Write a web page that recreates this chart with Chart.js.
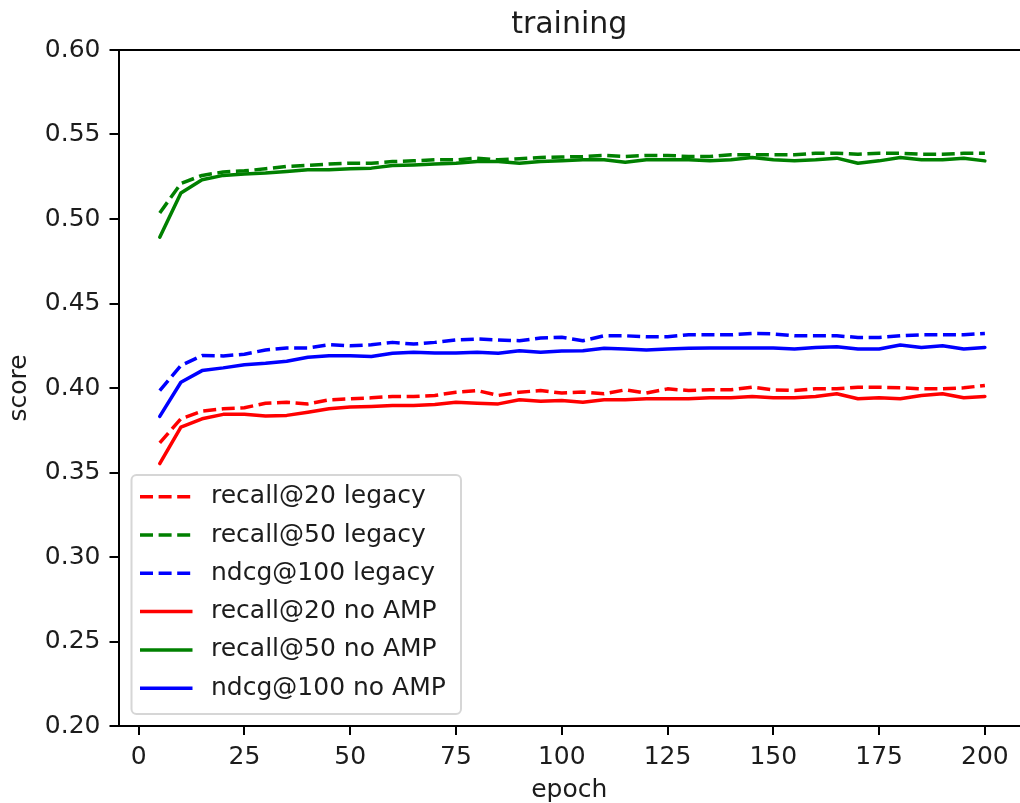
<!DOCTYPE html>
<html>
<head>
<meta charset="utf-8">
<title>training</title>
<script src="https://cdn.jsdelivr.net/npm/chart.js@4.4.1/dist/chart.umd.min.js"></script>
<style>
  html, body { margin: 0; padding: 0; background: #fff; }
  #wrap { width: 1020px; height: 803px; position: relative; }
</style>
</head>
<body>
<div id="wrap"><canvas id="trainingChart"></canvas></div>
<script>
// epochs
const epochs = [5, 10, 15, 20, 25, 30, 35, 40, 45, 50, 55, 60, 65, 70, 75, 80, 85, 90, 95, 100,
  105, 110, 115, 120, 125, 130, 135, 140, 145, 150, 155, 160, 165, 170, 175, 180, 185, 190, 195, 200];

const recall20Legacy = [0.3675, 0.3818, 0.3863, 0.3877, 0.3883, 0.3910, 0.3916, 0.3906, 0.3930, 0.3936,
  0.3942, 0.3950, 0.3950, 0.3956, 0.3975, 0.3985, 0.3956, 0.3975, 0.3985, 0.3970,
  0.3976, 0.3966, 0.3989, 0.3970, 0.3995, 0.3985, 0.3989, 0.3989, 0.4005, 0.3989,
  0.3985, 0.3995, 0.3995, 0.4005, 0.4005, 0.4001, 0.3995, 0.3995, 0.4001, 0.4015];

const recall50Legacy = [0.5036, 0.5210, 0.5258, 0.5278, 0.5285, 0.5297, 0.5311, 0.5317, 0.5325, 0.5330,
  0.5330, 0.5340, 0.5344, 0.5350, 0.5350, 0.5360, 0.5350, 0.5356, 0.5364, 0.5367,
  0.5370, 0.5376, 0.5370, 0.5376, 0.5376, 0.5370, 0.5370, 0.5380, 0.5380, 0.5380,
  0.5380, 0.5389, 0.5389, 0.5383, 0.5389, 0.5389, 0.5383, 0.5383, 0.5389, 0.5389];

const ndcg100Legacy = [0.3985, 0.4133, 0.4192, 0.4190, 0.4200, 0.4225, 0.4237, 0.4237, 0.4256, 0.4250,
  0.4256, 0.4270, 0.4260, 0.4270, 0.4284, 0.4290, 0.4284, 0.4280, 0.4296, 0.4300,
  0.4280, 0.4309, 0.4309, 0.4303, 0.4303, 0.4315, 0.4315, 0.4315, 0.4323, 0.4320,
  0.4309, 0.4309, 0.4309, 0.4299, 0.4299, 0.4309, 0.4315, 0.4315, 0.4315, 0.4323];

const recall20NoAmp = [0.3553, 0.3769, 0.3818, 0.3844, 0.3844, 0.3834, 0.3838, 0.3857, 0.3877, 0.3887,
  0.3891, 0.3897, 0.3897, 0.3903, 0.3916, 0.3910, 0.3906, 0.3930, 0.3922, 0.3926,
  0.3916, 0.3930, 0.3930, 0.3936, 0.3936, 0.3936, 0.3942, 0.3942, 0.3950, 0.3942,
  0.3942, 0.3950, 0.3966, 0.3936, 0.3942, 0.3936, 0.3956, 0.3966, 0.3942, 0.3950];

const recall50NoAmp = [0.4892, 0.5154, 0.5232, 0.5258, 0.5266, 0.5272, 0.5281, 0.5291, 0.5291, 0.5297,
  0.5301, 0.5317, 0.5320, 0.5325, 0.5330, 0.5340, 0.5340, 0.5330, 0.5340, 0.5344,
  0.5350, 0.5350, 0.5336, 0.5350, 0.5350, 0.5350, 0.5344, 0.5350, 0.5364, 0.5350,
  0.5344, 0.5350, 0.5360, 0.5330, 0.5344, 0.5364, 0.5350, 0.5350, 0.5360, 0.5344];

const ndcg100NoAmp = [0.3832, 0.4034, 0.4103, 0.4119, 0.4138, 0.4146, 0.4158, 0.4182, 0.4191, 0.4191,
  0.4187, 0.4205, 0.4211, 0.4207, 0.4207, 0.4211, 0.4205, 0.4221, 0.4211, 0.4219,
  0.4221, 0.4235, 0.4231, 0.4225, 0.4231, 0.4235, 0.4237, 0.4237, 0.4237, 0.4237,
  0.4231, 0.4240, 0.4244, 0.4231, 0.4231, 0.4254, 0.4240, 0.4250, 0.4231, 0.4240];

const yTicks = [0.20, 0.25, 0.30, 0.35, 0.40, 0.45, 0.50, 0.55, 0.60];
const xTicks = [0, 25, 50, 75, 100, 125, 150, 175, 200];

const FONT = 'DejaVu Sans';
const TEXT = '#1c1c1c';
const LW = 3.5;
const DASH = [13, 5.6];

function series(label, values, color, dashed) {
  return {
    label: label,
    data: values.map((v, i) => ({ x: epochs[i], y: v })),
    borderColor: color,
    backgroundColor: color,
    borderWidth: LW,
    borderDash: dashed ? DASH : [],
    borderCapStyle: dashed ? 'butt' : 'round',
    borderJoinStyle: 'round',
    pointRadius: 0,
    tension: 0,
    fill: false
  };
}

// matplotlib-like legend inside the axes, lower left
const boxLegend = {
  id: 'boxLegend',
  afterDatasetsDraw(chart) {
    const ctx = chart.ctx;
    const ds = chart.data.datasets;
    const x0 = 131.5, y0 = 475, w = 329.5, h = 239, r = 5;
    ctx.save();
    ctx.beginPath();
    ctx.roundRect(x0, y0, w, h, r);
    ctx.fillStyle = 'rgba(255,255,255,0.8)';
    ctx.fill();
    ctx.lineWidth = 2;
    ctx.strokeStyle = '#d6d6d6';
    ctx.stroke();
    ds.forEach((d, i) => {
      const cy = 496.7 + i * 38.3;
      ctx.beginPath();
      ctx.setLineDash(d.borderDash);
      ctx.lineCap = 'butt';
      ctx.lineWidth = LW;
      ctx.strokeStyle = d.borderColor;
      ctx.moveTo(140, cy);
      ctx.lineTo(192.5, cy);
      ctx.stroke();
      ctx.setLineDash([]);
      ctx.fillStyle = TEXT;
      ctx.font = '25px "' + FONT + '"';
      ctx.textAlign = 'left';
      ctx.textBaseline = 'middle';
      ctx.fillText(d.label, 211, cy);
    });
    ctx.restore();
  }
};

const ctx = document.getElementById('trainingChart').getContext('2d');
new Chart(ctx, {
  type: 'line',
  data: {
    datasets: [
      series('recall@20 legacy', recall20Legacy, '#ff0000', true),
      series('recall@50 legacy', recall50Legacy, '#008000', true),
      series('ndcg@100 legacy', ndcg100Legacy, '#0000ff', true),
      series('recall@20 no AMP', recall20NoAmp, '#ff0000', false),
      series('recall@50 no AMP', recall50NoAmp, '#008000', false),
      series('ndcg@100 no AMP', ndcg100NoAmp, '#0000ff', false)
    ]
  },
  options: {
    responsive: true,
    maintainAspectRatio: false,
    animation: false,
    layout: { padding: 0 },
    font: { family: FONT },
    plugins: {
      legend: { display: false },
      tooltip: { enabled: false },
      title: { display: false }
    },
    scales: {
      x: {
        type: 'linear',
        position: 'bottom',
        min: -4.75,
        max: 208.3,
        afterFit: (s) => { s.height = 77; },
        afterBuildTicks: (s) => { s.ticks = xTicks.map(v => ({ value: v })); },
        border: { display: true, color: '#000', width: 2 },
        grid: { drawOnChartArea: false, drawTicks: true, tickLength: 9, color: '#000', lineWidth: 2 },
        ticks: { color: TEXT, font: { family: FONT, size: 25 }, padding: 7, maxRotation: 0 },
        title: { display: true, text: 'epoch', color: TEXT, font: { family: FONT, size: 25 }, padding: { top: 0, bottom: -2 } }
      },
      top: {
        type: 'linear',
        position: 'top',
        min: -4.75,
        max: 208.3,
        afterFit: (s) => { s.height = 50; },
        border: { display: true, color: '#000', width: 2 },
        grid: { display: false, drawTicks: false },
        ticks: { display: false },
        title: { display: true, text: 'training', color: TEXT, font: { family: FONT, size: 30 }, padding: { top: 7, bottom: 7 } }
      },
      y: {
        type: 'linear',
        position: 'left',
        min: 0.2,
        max: 0.6,
        afterFit: (s) => { s.width = 118.5; },
        afterBuildTicks: (s) => { s.ticks = yTicks.map(v => ({ value: v })); },
        border: { display: true, color: '#000', width: 2 },
        grid: { drawOnChartArea: false, drawTicks: true, tickLength: 9, color: '#000', lineWidth: 2 },
        ticks: { color: TEXT, font: { family: FONT, size: 25 }, padding: 9, callback: (v) => v.toFixed(2) },
        title: { display: true, text: 'score', color: TEXT, font: { family: FONT, size: 25 }, padding: { top: 4, bottom: 0 } }
      }
    }
  },
  plugins: [boxLegend]
});
</script>
</body>
</html>
